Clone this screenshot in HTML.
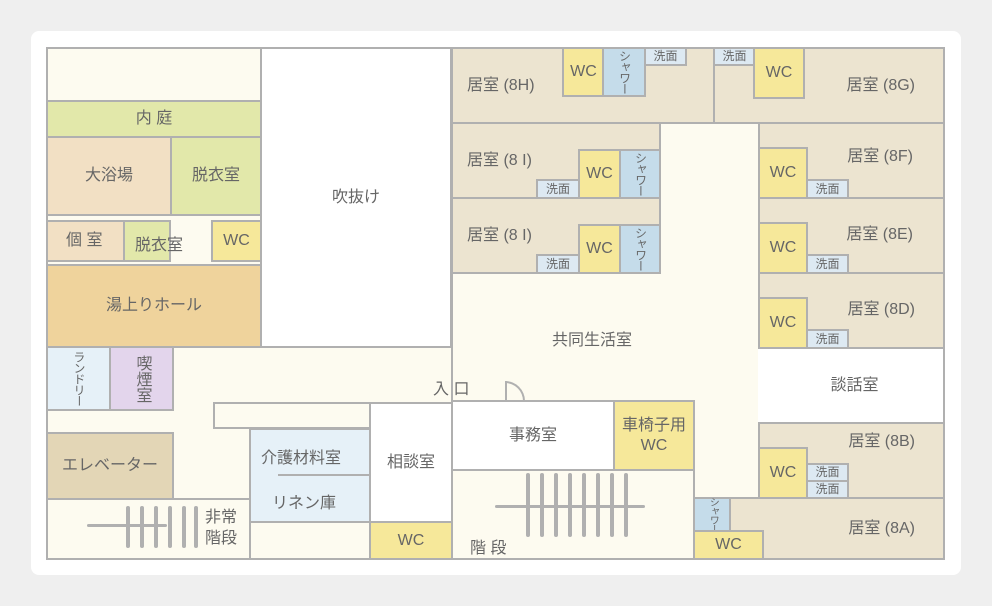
<!DOCTYPE html>
<html><head><meta charset="utf-8"><style>
body{margin:0;background:#efefef;width:992px;height:606px;overflow:hidden;font-family:"Liberation Sans","Noto Sans CJK JP",sans-serif;color:#666}
.card{position:absolute;left:31px;top:31px;width:930px;height:544px;background:#fff;border-radius:8px}
.r{position:absolute;box-sizing:border-box;border:2px solid #b0b0b0;display:flex;align-items:center;justify-content:center;font-size:16px;text-align:center;line-height:1.25;white-space:nowrap}
.n{position:absolute;font-size:16px;white-space:nowrap}
.s{font-size:12px}
.v{writing-mode:vertical-rl;font-size:12px;letter-spacing:-1px}
.cr{background:#fdfbf0}.gr{background:#e2e8aa}.bt{background:#f2e0c4}.ye{background:#f6e89a}.hl{background:#efd39c}
.lb{background:#e6f1f8}.lv{background:#e3d5ec}.el{background:#e3d6b6}.be{background:#ece4d0}.bl{background:#c5dcea}.sb{background:#dde9f2}.wh{background:#fff}
.st{position:absolute;background:#b0b0b0;border-radius:3px}
</style></head><body>
<div class="card"></div>
<div class="r cr" style="left:46px;top:47px;width:899px;height:513px"></div>
<!-- left column -->
<div class="r cr" style="left:46px;top:47px;width:216px;height:55px"></div>
<div class="r gr" style="left:46px;top:100px;width:216px;height:38px">内 庭</div>
<div class="r bt" style="left:46px;top:136px;width:126px;height:80px">大浴場</div>
<div class="r gr" style="left:170px;top:136px;width:92px;height:80px">脱衣室</div>
<div class="r bt" style="left:46px;top:220px;width:79px;height:42px;justify-content:flex-start;padding-left:18px">個 室</div>
<div class="r gr" style="left:123px;top:220px;width:48px;height:42px"></div>
<div class="n" style="left:135px;top:231px">脱衣室</div>
<div class="r ye" style="left:211px;top:220px;width:51px;height:42px">WC</div>
<div class="r hl" style="left:46px;top:264px;width:216px;height:84px">湯上りホール</div>
<div class="r wh" style="left:260px;top:47px;width:192px;height:301px">吹抜け</div>
<div class="r lb" style="left:46px;top:346px;width:65px;height:65px"><span class="v">ランドリー</span></div>
<div class="r lv" style="left:109px;top:346px;width:65px;height:65px"><span style="writing-mode:vertical-rl;font-size:16px">喫煙室</span></div>
<div class="r cr" style="left:213px;top:402px;width:158px;height:27px"></div>
<div class="r el" style="left:46px;top:432px;width:128px;height:68px">エレベーター</div>
<div class="r cr" style="left:46px;top:498px;width:205px;height:62px"></div>
<div class="st" style="left:87px;top:524px;width:80px;height:3px"></div>
<div class="st" style="left:126px;top:506px;width:4px;height:42px"></div>
<div class="st" style="left:140px;top:506px;width:4px;height:42px"></div>
<div class="st" style="left:154px;top:506px;width:4px;height:42px"></div>
<div class="st" style="left:168px;top:506px;width:4px;height:42px"></div>
<div class="st" style="left:182px;top:506px;width:4px;height:42px"></div>
<div class="st" style="left:194px;top:506px;width:4px;height:42px"></div>
<div class="n" style="left:205px;top:508px;line-height:1.3">非常<br>階段</div>
<div class="r lb" style="left:249px;top:428px;width:123px;height:95px"></div>
<div style="position:absolute;left:278px;top:474px;width:92px;height:2px;background:#b0b0b0"></div>
<div class="n" style="left:261px;top:444px">介護材料室</div>
<div class="n" style="left:272px;top:489px">リネン庫</div>
<div class="r cr" style="left:249px;top:521px;width:123px;height:39px"></div>
<div class="r wh" style="left:369px;top:402px;width:84px;height:121px">相談室</div>
<div class="r ye" style="left:369px;top:521px;width:84px;height:39px">WC</div>
<!-- center -->
<div class="r cr" style="left:451px;top:271px;width:309px;height:228px;border-bottom:none;border-right:none"></div>
<div class="r cr" style="left:658px;top:121px;width:102px;height:153px;border:none"></div>
<div class="n" style="left:552px;top:326px">共同生活室</div>
<div class="n" style="left:433px;top:375px">入 口</div>
<div style="position:absolute;left:505px;top:381px;width:20px;height:20px;box-sizing:border-box;border-left:2px solid #b0b0b0;border-top:2px solid #b0b0b0;border-right:2px solid #b0b0b0;border-top-right-radius:20px"></div>
<div class="r wh" style="left:451px;top:400px;width:164px;height:71px">事務室</div>
<div class="r ye" style="left:613px;top:400px;width:82px;height:71px">車椅子用<br>WC</div>
<div class="r cr" style="left:451px;top:469px;width:244px;height:91px"></div>
<div class="st" style="left:495px;top:505px;width:150px;height:3px"></div>
<div class="st" style="left:526px;top:473px;width:4px;height:64px"></div>
<div class="st" style="left:540px;top:473px;width:4px;height:64px"></div>
<div class="st" style="left:554px;top:473px;width:4px;height:64px"></div>
<div class="st" style="left:568px;top:473px;width:4px;height:64px"></div>
<div class="st" style="left:582px;top:473px;width:4px;height:64px"></div>
<div class="st" style="left:596px;top:473px;width:4px;height:64px"></div>
<div class="st" style="left:610px;top:473px;width:4px;height:64px"></div>
<div class="st" style="left:624px;top:473px;width:4px;height:64px"></div>
<div class="n" style="left:470px;top:534px">階 段</div>
<!-- 8H/8I -->
<div class="r be" style="left:451px;top:47px;width:265px;height:77px;justify-content:flex-start;padding:0 0 0 14px">居室 (8H)</div>
<div class="r ye" style="left:562px;top:47px;width:43px;height:50px">WC</div>
<div class="r bl" style="left:602px;top:47px;width:44px;height:50px"><span class="v">シャワー</span></div>
<div class="r sb s" style="left:644px;top:47px;width:43px;height:19px">洗面</div>
<div class="r be" style="left:451px;top:122px;width:210px;height:77px;justify-content:flex-start;align-items:flex-start;padding:27px 0 0 14px">居室 (8 I)</div>
<div class="r sb s" style="left:536px;top:179px;width:44px;height:20px">洗面</div>
<div class="r ye" style="left:578px;top:149px;width:43px;height:50px">WC</div>
<div class="r bl" style="left:619px;top:149px;width:42px;height:50px"><span class="v">シャワー</span></div>
<div class="r be" style="left:451px;top:197px;width:210px;height:77px;justify-content:flex-start;align-items:flex-start;padding:27px 0 0 14px">居室 (8 I)</div>
<div class="r sb s" style="left:536px;top:254px;width:44px;height:20px">洗面</div>
<div class="r ye" style="left:578px;top:224px;width:43px;height:50px">WC</div>
<div class="r bl" style="left:619px;top:224px;width:42px;height:50px"><span class="v">シャワー</span></div>
<!-- right -->
<div class="r be" style="left:713px;top:47px;width:232px;height:77px;justify-content:flex-end;padding:0 28px 0 0">居室 (8G)</div>
<div class="r sb s" style="left:713px;top:47px;width:43px;height:19px">洗面</div>
<div class="r ye" style="left:753px;top:47px;width:52px;height:52px">WC</div>
<div class="r be" style="left:758px;top:122px;width:187px;height:77px;justify-content:flex-end;align-items:flex-start;padding:23px 30px 0 0">居室 (8F)</div>
<div class="r ye" style="left:758px;top:147px;width:50px;height:52px">WC</div>
<div class="r sb s" style="left:806px;top:179px;width:43px;height:20px">洗面</div>
<div class="r be" style="left:758px;top:197px;width:187px;height:77px;justify-content:flex-end;align-items:flex-start;padding:26px 30px 0 0">居室 (8E)</div>
<div class="r ye" style="left:758px;top:222px;width:50px;height:52px">WC</div>
<div class="r sb s" style="left:806px;top:254px;width:43px;height:20px">洗面</div>
<div class="r be" style="left:758px;top:272px;width:187px;height:77px;justify-content:flex-end;align-items:flex-start;padding:26px 28px 0 0">居室 (8D)</div>
<div class="r ye" style="left:758px;top:297px;width:50px;height:52px">WC</div>
<div class="r sb s" style="left:806px;top:329px;width:43px;height:20px">洗面</div>
<div class="r wh" style="left:758px;top:347px;width:187px;height:77px;border-left:none;padding-left:8px">談話室</div>
<div class="r be" style="left:758px;top:422px;width:187px;height:77px;justify-content:flex-end;align-items:flex-start;padding:8px 28px 0 0">居室 (8B)</div>
<div class="r ye" style="left:758px;top:447px;width:50px;height:52px">WC</div>
<div class="r sb s" style="left:806px;top:463px;width:43px;height:19px">洗面</div>
<div class="r sb s" style="left:806px;top:480px;width:43px;height:19px">洗面</div>
<div class="r be" style="left:728px;top:497px;width:217px;height:63px;justify-content:flex-end;padding:0 28px 0 0">居室 (8A)</div>
<div class="r bl" style="left:693px;top:497px;width:38px;height:35px"><span class="v" style="font-size:10px">シャワー</span></div>
<div class="r ye" style="left:693px;top:530px;width:71px;height:30px">WC</div>
</body></html>
